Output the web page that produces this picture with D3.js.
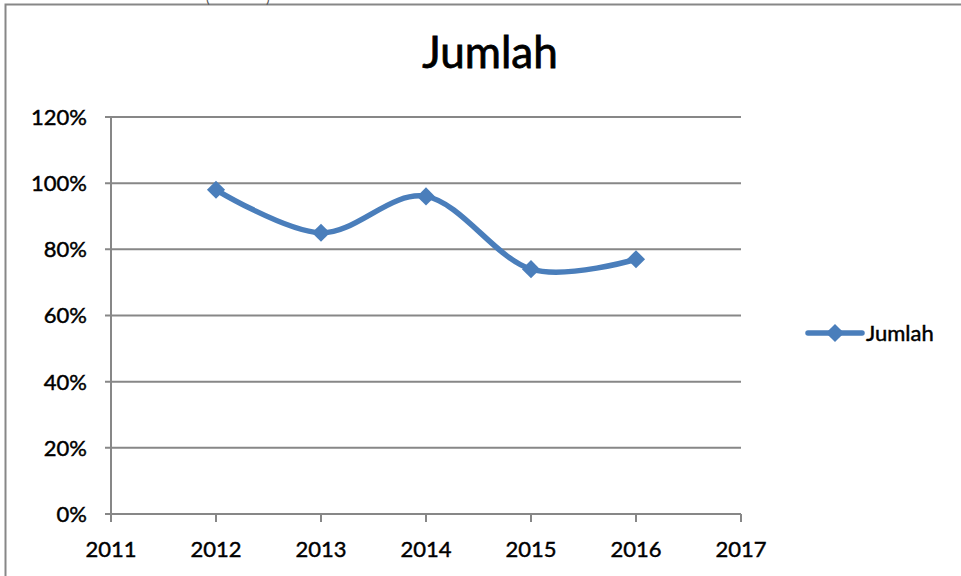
<!DOCTYPE html>
<html>
<head>
<meta charset="utf-8">
<script src="https://cdn.jsdelivr.net/npm/d3@7"></script>
<style>
  body { margin: 0; background: #fff; }
  text { font-family: Lato, "Open Sans", "Liberation Sans", sans-serif; fill: #000; stroke: #000; stroke-width: 0.45; }
</style>
</head>
<body>
<svg id="chart" width="961" height="576"></svg>
<script>
const years = [2012, 2013, 2014, 2015, 2016];
const jumlah = [0.98, 0.85, 0.96, 0.74, 0.77];
const yTicks = [0, 0.2, 0.4, 0.6, 0.8, 1.0, 1.2];
const xTicks = [2011, 2012, 2013, 2014, 2015, 2016, 2017];
const seriesName = "Jumlah";

const svg = d3.select("#chart");
const gridColor = "#878787";
const lineColor = "#4a7ebb";

// outer chart frame (runs off the page to the right and bottom)
svg.append("rect")
    .attr("x", 5.5).attr("y", 4.5)
    .attr("width", 1000).attr("height", 600)
    .attr("fill", "none")
    .attr("stroke", gridColor)
    .attr("stroke-width", 2);

// clipped caption fragments at very top (bracket edges of a cut-off caption)
svg.append("g")
    .selectAll("text")
    .data([["(", 206], [")", 266]])
    .join("text")
    .attr("x", d => d[1]).attr("y", 3)
    .attr("font-size", 14)
    .style("fill", "#555").style("stroke", "none")
    .text(d => d[0]);

const x = d3.scaleLinear().domain([2011, 2017]).range([111, 741]);
const y = d3.scaleLinear().domain([0, 1.2]).range([514, 117]);

// title
svg.append("text")
    .attr("x", 490).attr("y", 68)
    .attr("text-anchor", "middle")
    .attr("font-size", 44)
    .style("stroke-width", 0.8)
    .text(seriesName);

// horizontal gridlines
svg.append("g")
    .selectAll("line")
    .data(yTicks)
    .join("line")
    .attr("x1", 105).attr("x2", 741)
    .attr("y1", d => y(d)).attr("y2", d => y(d))
    .attr("stroke", gridColor)
    .attr("stroke-width", 2);

// vertical axis line
svg.append("line")
    .attr("x1", 111).attr("x2", 111)
    .attr("y1", y(1.2)).attr("y2", y(0))
    .attr("stroke", gridColor)
    .attr("stroke-width", 2);

// y tick labels
svg.append("g")
    .selectAll("text")
    .data(yTicks)
    .join("text")
    .attr("x", 87)
    .attr("y", d => y(d))
    .attr("dy", "0.36em")
    .attr("text-anchor", "end")
    .attr("font-size", 22)
    .text(d3.format(".0%"));

// x ticks
svg.append("g")
    .selectAll("line")
    .data(xTicks)
    .join("line")
    .attr("x1", d => x(d)).attr("x2", d => x(d))
    .attr("y1", y(0)).attr("y2", y(0) + 8)
    .attr("stroke", gridColor)
    .attr("stroke-width", 2);

svg.append("g")
    .selectAll("text")
    .data(xTicks)
    .join("text")
    .attr("x", d => x(d))
    .attr("y", 557)
    .attr("text-anchor", "middle")
    .attr("font-size", 22)
    .text(d => d);

// smoothed series line
const points = years.map((yr, i) => [x(yr), y(jumlah[i])]);
svg.append("path")
    .datum(points)
    .attr("d", d3.line().curve(d3.curveCatmullRom.alpha(0)))
    .attr("fill", "none")
    .attr("stroke", lineColor)
    .attr("stroke-width", 5.5)
    .attr("stroke-linecap", "round");

const diamond = d3.symbol().type(d3.symbolDiamond2).size(210);

svg.append("g")
    .selectAll("path")
    .data(points)
    .join("path")
    .attr("d", diamond)
    .attr("transform", d => `translate(${d[0]},${d[1]})`)
    .attr("fill", lineColor);

// legend
const legend = svg.append("g").attr("transform", "translate(808,333)");
legend.append("line")
    .attr("x1", 0).attr("x2", 54)
    .attr("stroke", lineColor)
    .attr("stroke-width", 5.5)
    .attr("stroke-linecap", "round");
legend.append("path")
    .attr("d", diamond)
    .attr("transform", "translate(27,0)")
    .attr("fill", lineColor);
legend.append("text")
    .attr("x", 58)
    .attr("dy", "0.36em")
    .attr("font-size", 22)
    .text(seriesName);
</script>
</body>
</html>
